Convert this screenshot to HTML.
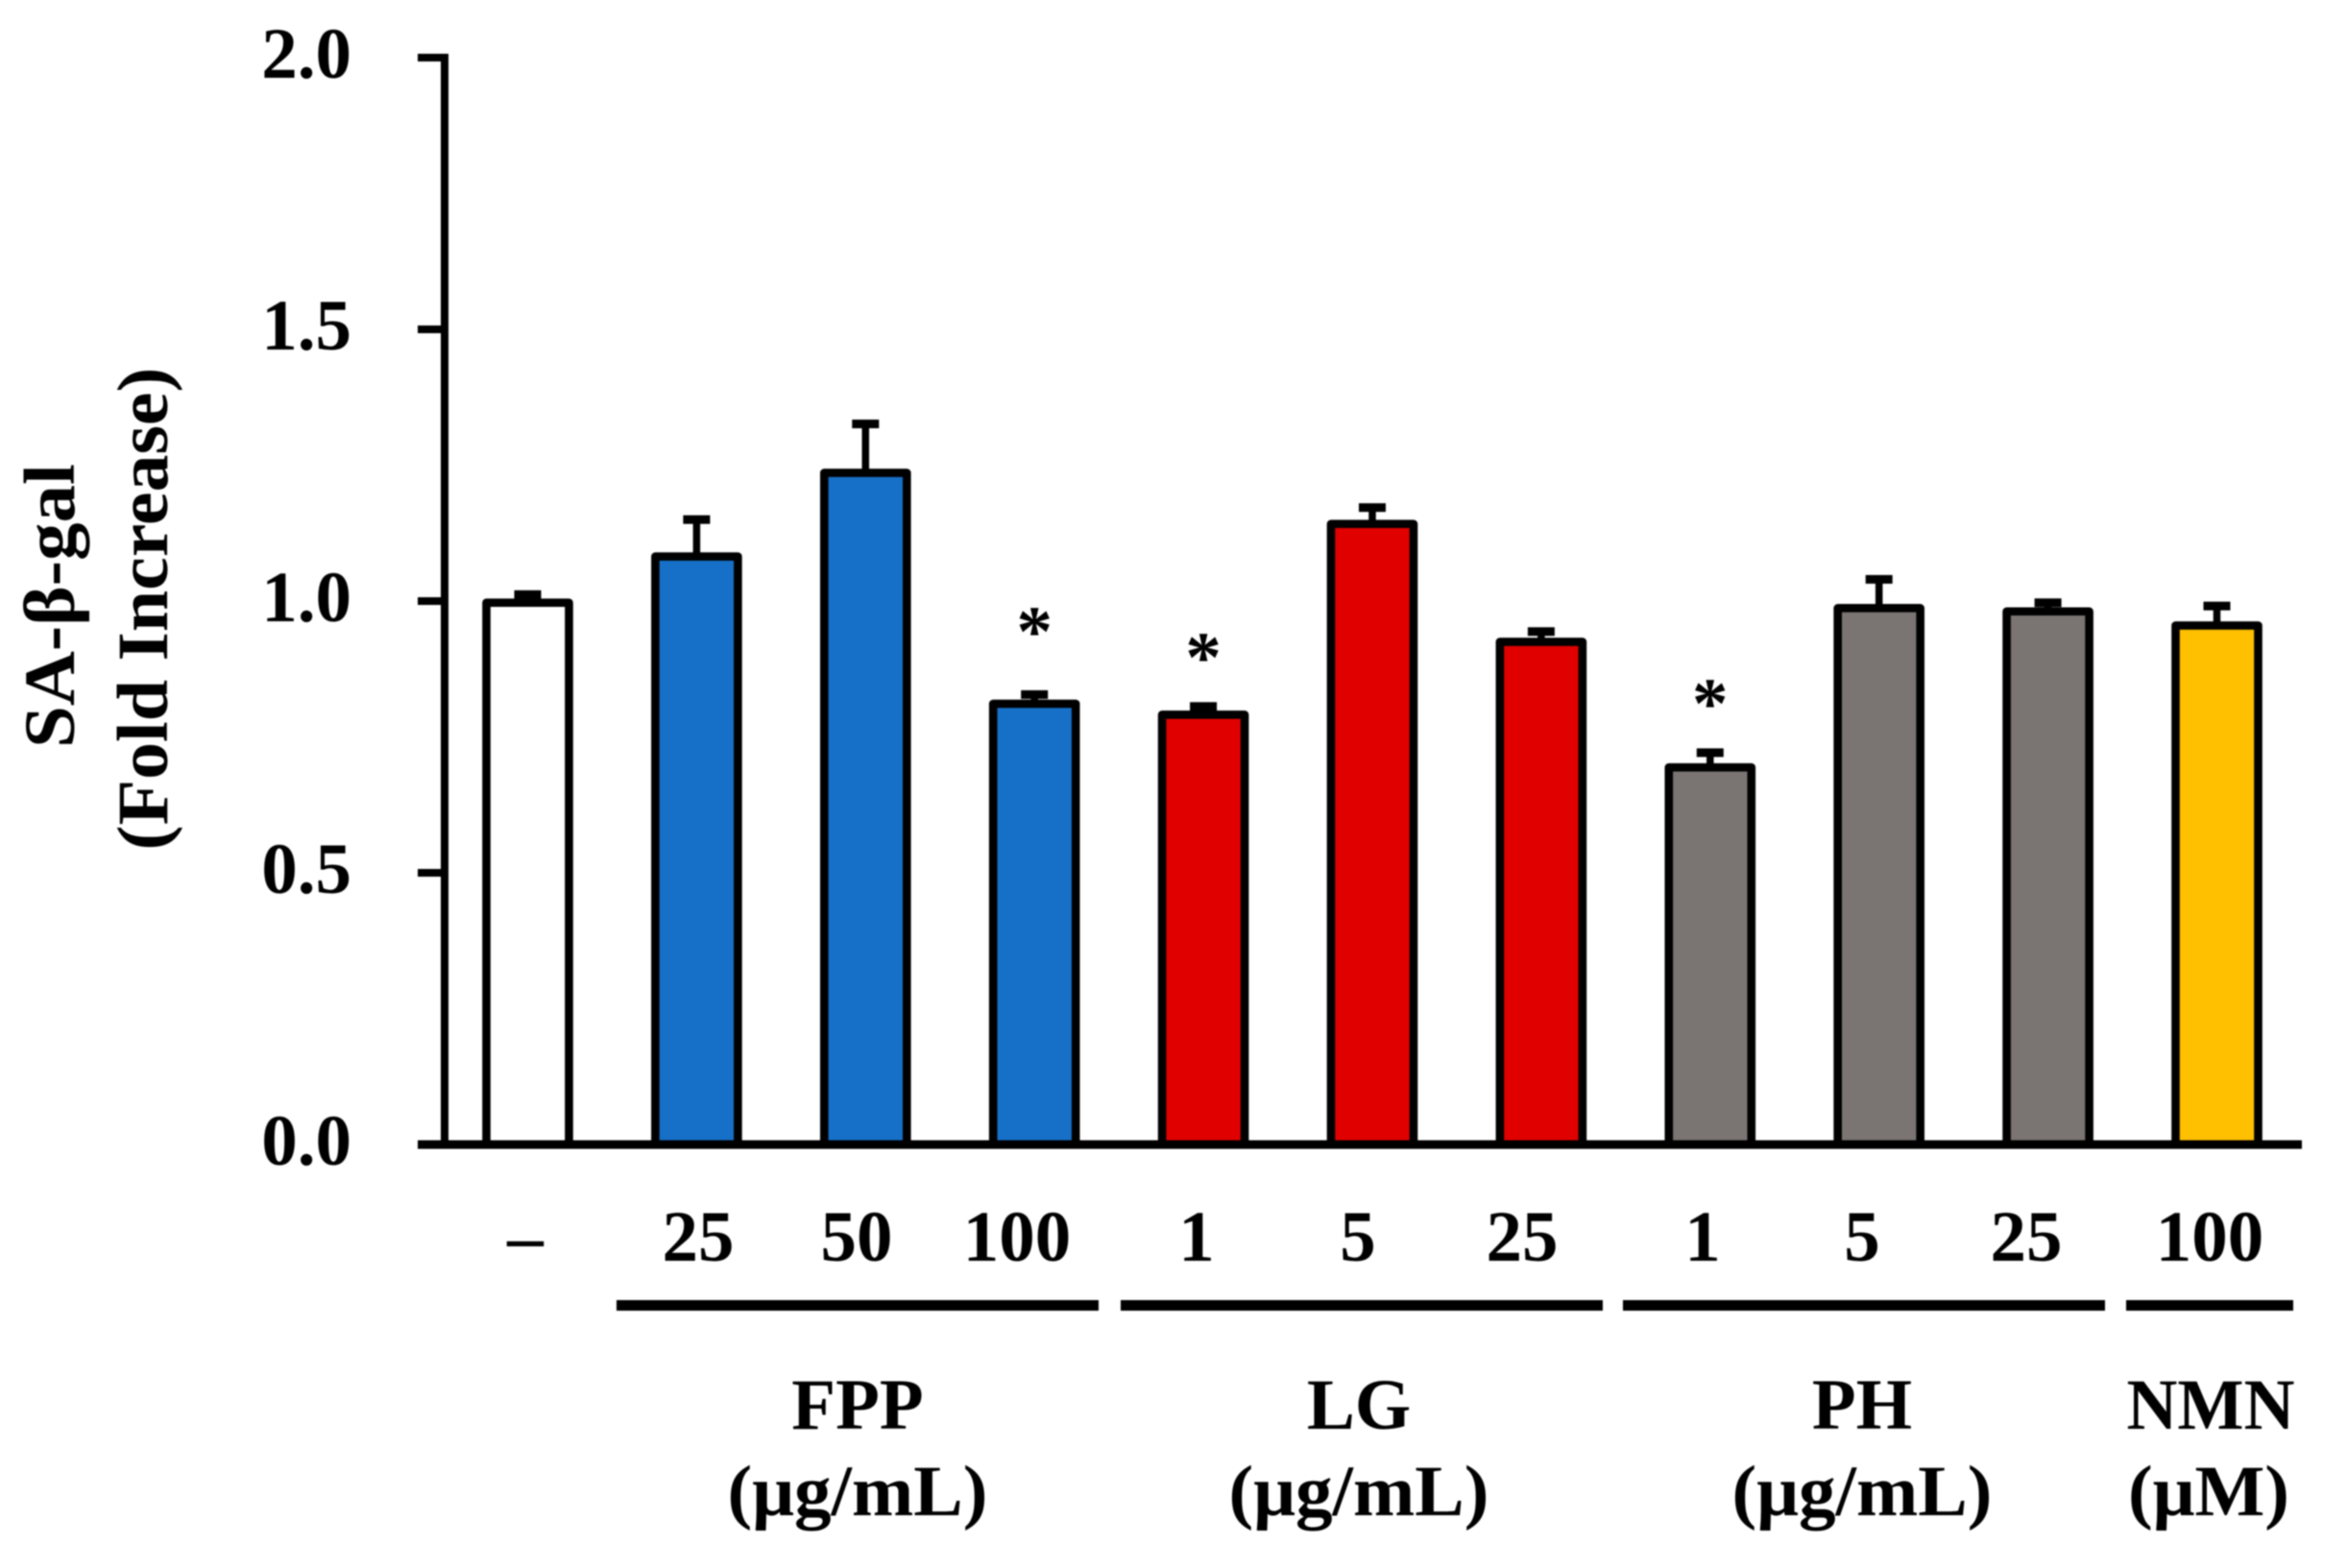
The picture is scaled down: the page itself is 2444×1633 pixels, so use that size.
<!DOCTYPE html>
<html lang="en">
<head>
<meta charset="utf-8">
<title>SA-β-gal chart</title>
<style>
html,body{margin:0;padding:0;background:#fff;width:2444px;height:1633px;overflow:hidden}
svg{display:block;filter:blur(0.7px)}
text{font-family:"Liberation Serif","DejaVu Serif",serif;font-weight:bold;fill:#000;font-size:75px}
</style>
</head>
<body>
<svg id="chart" xmlns="http://www.w3.org/2000/svg" width="2444" height="1633" viewBox="0 0 2444 1633">
  <rect x="0" y="0" width="2444" height="1633" fill="#fff"/>
  <g id="errors"></g>
  <g id="bars"></g>
  <g id="stars"></g>
  <g id="axis"></g>
  <text transform="translate(77,631) rotate(-90)" text-anchor="middle" textLength="296" lengthAdjust="spacingAndGlyphs">SA-β-gal</text>
  <text transform="translate(174,634) rotate(-90)" text-anchor="middle" textLength="503" lengthAdjust="spacingAndGlyphs">(Fold Increase)</text>

  <g text-anchor="middle">
    <text x="547" y="1313">–</text>
    <text x="727" y="1313">25</text>
    <text x="892" y="1313">50</text>
    <text x="1059" y="1313">100</text>
    <text x="1246" y="1313">1</text>
    <text x="1414" y="1313">5</text>
    <text x="1585" y="1313">25</text>
    <text x="1773" y="1313">1</text>
    <text x="1939" y="1313">5</text>
    <text x="2110" y="1313">25</text>
    <text x="2301" y="1313">100</text>
  </g>

  <g fill="#000">
    <rect x="642" y="1354" width="502" height="11"/>
    <rect x="1167" y="1354" width="502" height="11"/>
    <rect x="1690" y="1354" width="502" height="11"/>
    <rect x="2214" y="1354" width="174" height="11"/>
  </g>

  <g text-anchor="middle">
    <text x="893" y="1488">FPP</text>
    <text x="893" y="1578" textLength="271" lengthAdjust="spacingAndGlyphs">(μg/mL)</text>
    <text x="1415" y="1488">LG</text>
    <text x="1415" y="1578" textLength="271" lengthAdjust="spacingAndGlyphs">(μg/mL)</text>
    <text x="1939" y="1488">PH</text>
    <text x="1939" y="1578" textLength="271" lengthAdjust="spacingAndGlyphs">(μg/mL)</text>
    <text x="2302" y="1488" textLength="175" lengthAdjust="spacingAndGlyphs">NMN</text>
    <text x="2300" y="1578" textLength="168" lengthAdjust="spacingAndGlyphs">(μM)</text>
  </g>
</svg>
<script>
const categories = ['control','fpp-25','fpp-50','fpp-100','lg-1','lg-5','lg-25','ph-1','ph-5','ph-25','nmn-100'];
const means = [0.997, 1.082, 1.236, 0.811, 0.791, 1.142, 0.925, 0.694, 0.987, 0.981, 0.955];
const errorTops = [1.012, 1.150, 1.326, 0.828, 0.806, 1.172, 0.944, 0.721, 1.040, 0.997, 0.991];
const fills = ['#ffffff','#1770c8','#1770c8','#1770c8','#e00000','#e00000','#e00000','#7a7572','#7a7572','#7a7572','#ffc000'];
const starCategories = ['fpp-100','lg-1','ph-1'];
const starLevels = [0.963, 0.915, 0.830];
const yTicks = [0.0, 0.5, 1.0, 1.5, 2.0];

const SVGNS = 'http://www.w3.org/2000/svg';
const baseY = 1192, unit = 566, firstX = 549.5, stepX = 175.9, barW = 86;
function yScale(v){ return baseY - unit * v; }
function xScale(i){ return firstX + stepX * i; }
function make(tag, attrs, parent){
  const el = document.createElementNS(SVGNS, tag);
  for (const k in attrs) el.setAttribute(k, attrs[k]);
  parent.appendChild(el);
  return el;
}
const errorsG = document.getElementById('errors');
const barsG = document.getElementById('bars');
const starsG = document.getElementById('stars');
const axisG = document.getElementById('axis');

categories.forEach(function(cat, i){
  const cx = xScale(i), top = yScale(means[i]), eTop = yScale(errorTops[i]);
  const stem = make('line', {x1:cx, x2:cx, y1:top, y2:eTop, stroke:'#000', 'stroke-width':7.5}, errorsG);
  
  
  const cap = make('line', {x1:cx-14, x2:cx+14, y1:eTop, y2:eTop, stroke:'#000', 'stroke-width':9}, errorsG);
  
  
  const bar = make('rect', {x:cx-barW/2, y:top, width:barW, height:baseY-top, fill:fills[i], stroke:'#000', 'stroke-width':8.6, 'stroke-linejoin':'round'}, barsG);
  
  
  const s = starCategories.indexOf(cat);
  if (s >= 0) {
    const star = make('text', {x:cx, y:yScale(starLevels[s])+36, 'text-anchor':'middle'}, starsG);
    
    
    star.textContent = '*';
  }
});

const yAxisLine = make('line', {x1:463, x2:463, y1:yScale(2)-4, y2:baseY, stroke:'#000', 'stroke-width':8}, axisG);


const xAxisLine = make('line', {x1:435, x2:2397, y1:baseY, y2:baseY, stroke:'#000', 'stroke-width':9}, axisG);


yTicks.forEach(function(t){
  const y = yScale(t);
  const tick = make('line', {x1:435, x2:463, y1:y, y2:y, stroke:'#000', 'stroke-width':8}, axisG);
  
  
  const label = make('text', {x:366, y:y+21, 'text-anchor':'end'}, axisG);
  
  
  label.textContent = t.toFixed(1);
});
</script>
</body>
</html>
